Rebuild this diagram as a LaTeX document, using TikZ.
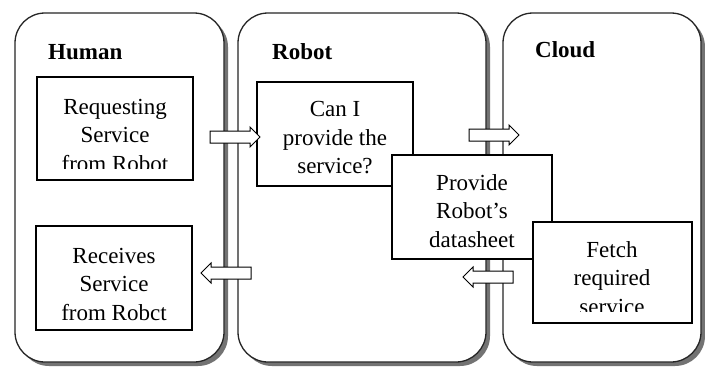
\documentclass[tikz,border=0pt]{standalone}
\usepackage{fontspec}
\setmainfont{Liberation Serif}
\usetikzlibrary{shapes.arrows,shadows}
\begin{document}
\begin{tikzpicture}[x=1pt,y=-1pt,
  panel/.style={draw=black!85, line width=1.3pt, rounded corners=30pt, fill=white, inner sep=0pt,
    drop shadow={shadow xshift=4pt, shadow yshift=-4pt, fill=black!55, opacity=1}},
  box/.style={draw=black, line width=1.1pt, fill=white, inner sep=0pt},
  txt/.style={align=center, font=\fontsize{23}{28.5}\selectfont, inner sep=0pt},
  ttl/.style={font=\fontsize{23}{28}\selectfont\bfseries, anchor=west, inner sep=0pt},
  barrow/.style={single arrow, draw=black, line width=1pt, fill=white, minimum height=50pt,
    inner xsep=0pt, inner ysep=5.5pt, single arrow head extend=4pt}
]
\useasboundingbox[fill=white] (0,0) rectangle (705,367);
% panels
\node[panel, minimum width=209pt, minimum height=349pt] (human) at (119.5,187.5) {};
\node[panel, minimum width=248pt, minimum height=349pt] (robot) at (362,187.5) {};
\node[panel, minimum width=198pt, minimum height=349pt] (cloud) at (602,187.5) {};
% titles
\node[ttl] (humanT) at (48,52) {Human};
\node[ttl] (robotT) at (272,52) {Robot};
\node[ttl] (cloudT) at (535,50) {Cloud};
% boxes
\node[box, minimum width=156pt, minimum height=103pt] (req) at (115,128.5) {};
\begin{scope}
  \clip (38,78) rectangle (192,168);
  \node[txt] (reqT) at (115,135) {Requesting\\Service\\from Robot};
\end{scope}
\node[box, minimum width=156pt, minimum height=104pt] (rcv) at (114,278) {};
\node[txt] (rcvT) at (114,284) {Receives\\Service\\from Robct};
\node[box, minimum width=156pt, minimum height=104pt] (can) at (335,134) {};
\node[txt] (canT) at (335,138) {Can I\\provide the\\service?};
\node[box, minimum width=160pt, minimum height=104pt] (prov) at (472,207) {};
\node[txt] (provT) at (472,211) {Provide\\Robot’s\\datasheet};
\node[box, minimum width=159pt, minimum height=101pt] (fetch) at (612.5,272.5) {};
\begin{scope}
  \clip (534,223) rectangle (691,311);
  \node[txt] (fetchT) at (612,278) {Fetch\\required\\service};
\end{scope}
% block arrows
\node[barrow] (a1) at (232,137) {};
\node[barrow] (a2) at (491,135) {};
\node[barrow, shape border rotate=180] (a3) at (491,277) {};
\node[barrow, shape border rotate=180] (a4) at (229,273) {};
\end{tikzpicture}
\end{document}
